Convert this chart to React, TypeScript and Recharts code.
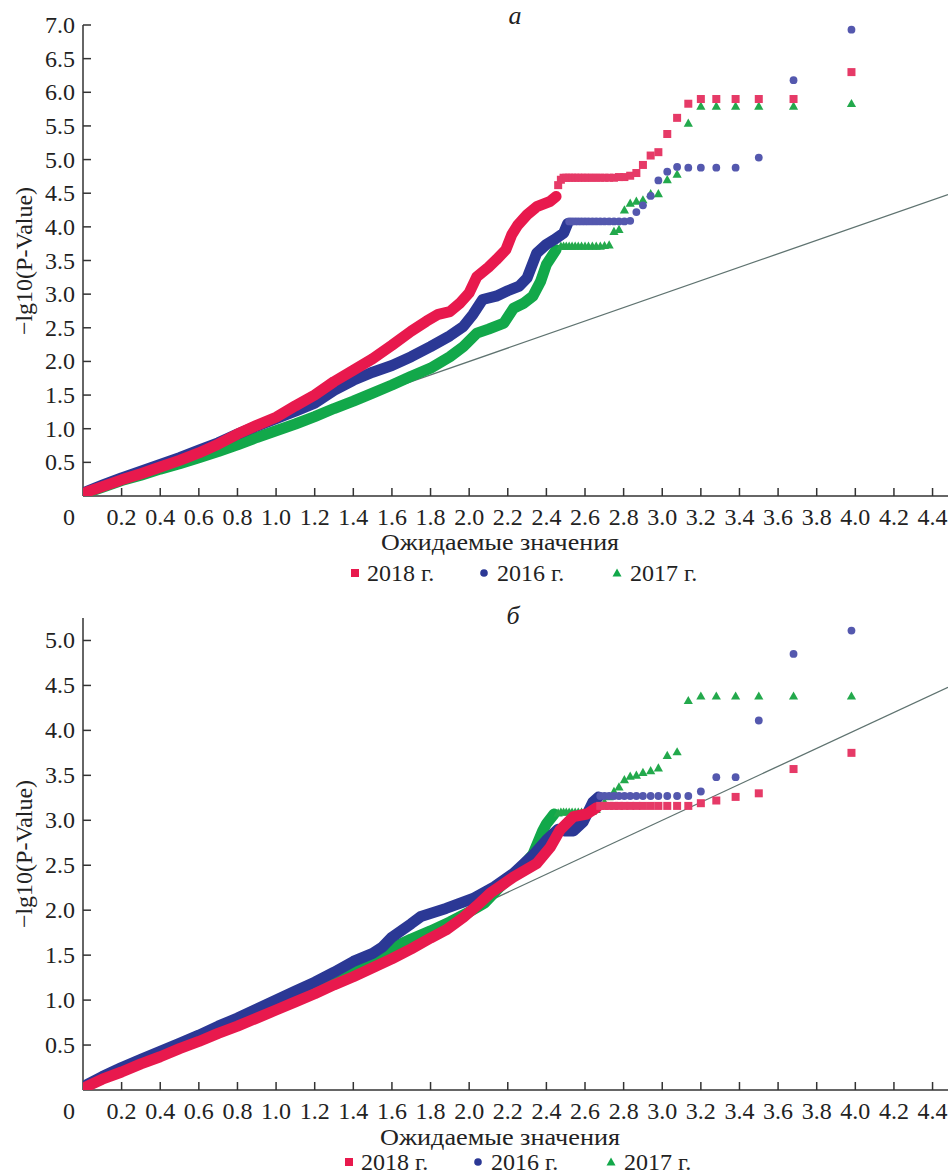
import React from 'react';
import { ScatterChart, Scatter, XAxis, YAxis } from 'recharts';

const SERIF = '"Liberation Serif", "Times New Roman", "DejaVu Serif", serif';
const RED = '#e8194d';
const BLUE = '#2b3895';
const GREEN = '#12a84a';
const RED_T = '#e63a67';
const BLUE_T = '#5458ae';
const GREEN_T = '#23a94c';
const DIAG = '#5f7370';
const AXIS = '#333333';
const TEXT = '#222222';

// ---- tick labels ----
const xTicks = [0, 0.2, 0.4, 0.6, 0.8, 1.0, 1.2, 1.4, 1.6, 1.8, 2.0, 2.2, 2.4, 2.6, 2.8, 3.0, 3.2, 3.4, 3.6, 3.8, 4.0, 4.2, 4.4];
const yTicksA = [0.5, 1.0, 1.5, 2.0, 2.5, 3.0, 3.5, 4.0, 4.5, 5.0, 5.5, 6.0, 6.5, 7.0];
const yTicksB = [0.5, 1.0, 1.5, 2.0, 2.5, 3.0, 3.5, 4.0, 4.5, 5.0];
const legendLabels = ['2018 г.', '2016 г.', '2017 г.'];
const panelLabels = ['а', 'б'];
const xTitle = 'Ожидаемые значения';
const yTitle = '−lg10(P-Value)';

// reference line y = x
const diagonal: [number, number][] = [[0, 0], [4.48, 4.48]];

// ---- panel а ----
const red2018A: [number, number][] = [
  [0.02, 0.06], [0.1, 0.14], [0.2, 0.24], [0.3, 0.33], [0.4, 0.43], [0.5, 0.53], [0.6, 0.64], [0.7, 0.77],
  [0.8, 0.92], [0.9, 1.05], [1.0, 1.17], [1.1, 1.34], [1.2, 1.50], [1.3, 1.70], [1.4, 1.87], [1.5, 2.04],
  [1.6, 2.24], [1.7, 2.45], [1.78, 2.60], [1.84, 2.70], [1.9, 2.74], [1.95, 2.86], [2.0, 3.02], [2.04, 3.26],
  [2.1, 3.40], [2.14, 3.51], [2.19, 3.66], [2.22, 3.88], [2.25, 4.02], [2.3, 4.18], [2.35, 4.30], [2.42, 4.38],
  [2.45, 4.45],
];
const red2018ATail: [number, number][] = [
  [2.461, 4.62], [2.475, 4.70], [2.489, 4.73], [2.503, 4.73], [2.518, 4.73], [2.533, 4.73], [2.549, 4.73],
  [2.565, 4.73], [2.582, 4.73], [2.6, 4.73], [2.618, 4.73], [2.638, 4.73], [2.658, 4.73], [2.679, 4.73],
  [2.701, 4.73], [2.725, 4.73], [2.75, 4.73], [2.776, 4.74], [2.804, 4.74], [2.834, 4.76], [2.866, 4.80],
  [2.9, 4.92], [2.94, 5.06], [2.98, 5.11], [3.026, 5.38], [3.077, 5.62], [3.135, 5.83], [3.2, 5.90],
  [3.28, 5.90], [3.38, 5.90], [3.5, 5.90], [3.68, 5.90], [3.98, 6.30],
];
const blue2016A: [number, number][] = [
  [0.02, 0.07], [0.1, 0.16], [0.2, 0.27], [0.3, 0.37], [0.4, 0.47], [0.5, 0.57], [0.6, 0.68], [0.7, 0.79],
  [0.8, 0.92], [0.9, 1.04], [1.0, 1.15], [1.1, 1.26], [1.2, 1.38], [1.3, 1.57], [1.4, 1.72], [1.5, 1.84],
  [1.6, 1.94], [1.7, 2.07], [1.8, 2.22], [1.9, 2.38], [1.97, 2.52], [2.02, 2.70], [2.07, 2.92], [2.14, 2.97],
  [2.2, 3.05], [2.26, 3.12], [2.3, 3.24], [2.35, 3.61], [2.4, 3.74], [2.44, 3.81], [2.49, 3.91], [2.51, 4.05],
];
const blue2016ATail: [number, number][] = [
  [2.518, 4.08], [2.533, 4.08], [2.549, 4.08], [2.565, 4.08], [2.582, 4.08], [2.6, 4.08], [2.618, 4.08],
  [2.638, 4.08], [2.658, 4.08], [2.679, 4.08], [2.701, 4.08], [2.725, 4.08], [2.75, 4.08], [2.776, 4.08],
  [2.804, 4.08], [2.834, 4.09], [2.866, 4.22], [2.9, 4.32], [2.94, 4.46], [2.98, 4.69], [3.026, 4.82],
  [3.077, 4.89], [3.135, 4.88], [3.2, 4.88], [3.28, 4.88], [3.38, 4.88], [3.5, 5.03], [3.68, 6.18], [3.98, 6.93],
];
const green2017A: [number, number][] = [
  [0.02, 0.05], [0.1, 0.13], [0.2, 0.23], [0.3, 0.31], [0.4, 0.40], [0.5, 0.48], [0.6, 0.57], [0.7, 0.66],
  [0.8, 0.76], [0.9, 0.87], [1.0, 0.97], [1.1, 1.07], [1.2, 1.18], [1.3, 1.30], [1.4, 1.41], [1.5, 1.53],
  [1.6, 1.65], [1.7, 1.78], [1.8, 1.90], [1.9, 2.07], [1.97, 2.22], [2.04, 2.42], [2.1, 2.48], [2.18, 2.57],
  [2.23, 2.79], [2.28, 2.86], [2.33, 2.97], [2.37, 3.19], [2.4, 3.44], [2.45, 3.66],
];
const green2017ATail: [number, number][] = [
  [2.475, 3.71], [2.489, 3.71], [2.503, 3.71], [2.518, 3.71], [2.533, 3.71], [2.549, 3.71], [2.565, 3.71],
  [2.582, 3.71], [2.6, 3.71], [2.618, 3.71], [2.638, 3.71], [2.658, 3.71], [2.679, 3.71], [2.701, 3.72],
  [2.725, 3.73], [2.75, 3.93], [2.776, 3.96], [2.804, 4.25], [2.834, 4.35], [2.866, 4.38], [2.9, 4.40],
  [2.94, 4.49], [2.98, 4.49], [3.026, 4.70], [3.077, 4.78], [3.135, 5.54], [3.2, 5.79], [3.28, 5.79],
  [3.38, 5.79], [3.5, 5.79], [3.68, 5.79], [3.98, 5.83],
];

// ---- panel б ----
const red2018B: [number, number][] = [
  [0.02, 0.04], [0.1, 0.12], [0.2, 0.20], [0.3, 0.29], [0.4, 0.37], [0.5, 0.46], [0.6, 0.54], [0.7, 0.63],
  [0.8, 0.71], [0.9, 0.80], [1.0, 0.89], [1.1, 0.98], [1.2, 1.07], [1.3, 1.17], [1.4, 1.26], [1.5, 1.36],
  [1.6, 1.46], [1.7, 1.57], [1.8, 1.69], [1.88, 1.78], [1.97, 1.92], [2.04, 2.05], [2.11, 2.19], [2.23, 2.37],
  [2.35, 2.52], [2.42, 2.70], [2.47, 2.89], [2.54, 3.04], [2.61, 3.07], [2.66, 3.14],
];
const red2018BTail: [number, number][] = [
  [2.679, 3.16], [2.701, 3.16], [2.725, 3.16], [2.75, 3.16], [2.776, 3.16], [2.804, 3.16],
  [2.834, 3.16], [2.866, 3.16], [2.9, 3.16], [2.94, 3.16], [2.98, 3.16], [3.026, 3.16], [3.077, 3.16],
  [3.135, 3.16], [3.2, 3.19], [3.28, 3.22], [3.38, 3.26], [3.5, 3.30], [3.68, 3.57], [3.98, 3.75],
];
const blue2016B: [number, number][] = [
  [0.02, 0.06], [0.1, 0.15], [0.2, 0.25], [0.3, 0.34], [0.4, 0.43], [0.5, 0.52], [0.6, 0.61], [0.7, 0.71],
  [0.8, 0.80], [0.9, 0.90], [1.0, 1.00], [1.1, 1.10], [1.2, 1.20], [1.3, 1.31], [1.4, 1.43], [1.5, 1.52],
  [1.55, 1.59], [1.6, 1.70], [1.7, 1.85], [1.75, 1.93], [1.88, 2.02], [2.02, 2.13], [2.13, 2.26], [2.23, 2.41],
  [2.33, 2.61], [2.4, 2.78], [2.46, 2.90], [2.5, 2.88], [2.54, 2.88], [2.59, 2.98], [2.64, 3.20], [2.67, 3.26],
];
const blue2016BTail: [number, number][] = [
  [2.679, 3.27], [2.701, 3.27], [2.725, 3.27], [2.75, 3.27], [2.776, 3.27], [2.804, 3.27], [2.834, 3.27],
  [2.866, 3.27], [2.9, 3.27], [2.94, 3.27], [2.98, 3.27], [3.026, 3.27], [3.077, 3.27], [3.135, 3.27],
  [3.2, 3.32], [3.28, 3.48], [3.38, 3.48], [3.5, 4.11], [3.68, 4.85], [3.98, 5.11],
];
const green2017B: [number, number][] = [
  [0.02, 0.05], [0.1, 0.13], [0.2, 0.22], [0.3, 0.31], [0.4, 0.39], [0.5, 0.48], [0.6, 0.57], [0.7, 0.66],
  [0.8, 0.75], [0.9, 0.84], [1.0, 0.93], [1.1, 1.02], [1.2, 1.12], [1.3, 1.21], [1.4, 1.31], [1.5, 1.42],
  [1.6, 1.58], [1.7, 1.68], [1.8, 1.77], [1.9, 1.87], [2.0, 1.98], [2.08, 2.08], [2.16, 2.26], [2.26, 2.45],
  [2.33, 2.62], [2.38, 2.88], [2.4, 2.96], [2.44, 3.07],
];
const green2017BTail: [number, number][] = [
  [2.461, 3.08], [2.475, 3.09], [2.489, 3.09], [2.503, 3.09], [2.518, 3.09], [2.533, 3.09], [2.549, 3.09],
  [2.565, 3.09], [2.582, 3.09], [2.6, 3.09], [2.618, 3.09], [2.638, 3.10], [2.658, 3.12], [2.679, 3.16],
  [2.701, 3.20], [2.725, 3.26], [2.75, 3.32], [2.776, 3.37], [2.804, 3.45], [2.834, 3.49], [2.866, 3.50],
  [2.9, 3.53], [2.94, 3.55], [2.98, 3.58], [3.026, 3.72], [3.077, 3.76], [3.135, 4.33], [3.2, 4.38],
  [3.28, 4.38], [3.38, 4.38], [3.5, 4.38], [3.68, 4.38], [3.98, 4.38],
];

const pts = (a: [number, number][]) => a.map(([x, y]) => ({ x, y }));

const noShape = () => <g />;
const squareShape = (color: string) => (p: any) => (
  <rect x={p.cx - 4} y={p.cy - 4} width={8} height={8} fill={color} />
);
const circleShape = (color: string) => (p: any) => <circle cx={p.cx} cy={p.cy} r={3.9} fill={color} />;
const triShape = (color: string) => (p: any) => (
  <polygon
    points={`${p.cx},${p.cy - 4.8} ${p.cx + 4.6},${p.cy + 3.4} ${p.cx - 4.6},${p.cy + 3.4}`}
    fill={color}
  />
);

const XTick = (props: any) => {
  const { x, y, payload } = props;
  const v = payload.value as number;
  if (v === 0) {
    return (
      <text x={x - 14} y={y + 21} textAnchor="middle" dominantBaseline="central" fill={TEXT}
        style={{ fontFamily: SERIF, fontSize: 24 }}>0</text>
    );
  }
  return (
    <g>
      <line x1={x} y1={y} x2={x} y2={y - 8} stroke={AXIS} strokeWidth={1.5} />
      <text x={x} y={y + 21} textAnchor="middle" dominantBaseline="central" fill={TEXT}
        style={{ fontFamily: SERIF, fontSize: 24 }}>{v.toFixed(1)}</text>
    </g>
  );
};

const YTick = (props: any) => {
  const { x, y, payload } = props;
  const v = payload.value as number;
  return (
    <g>
      <line x1={x} y1={y} x2={x + 8} y2={y} stroke={AXIS} strokeWidth={1.5} />
      <text x={x - 8} y={y} textAnchor="end" dominantBaseline="central" fill={TEXT}
        style={{ fontFamily: SERIF, fontSize: 24 }}>{v.toFixed(1)}</text>
    </g>
  );
};

const bandLine = (color: string) => ({
  stroke: color,
  strokeWidth: 11,
  strokeLinecap: 'round',
  strokeLinejoin: 'round',
});

type PanelProps = {
  height: number;
  marginTop: number;
  xAxisHeight: number;
  yMax: number;
  yTicks: number[];
  red: [number, number][];
  redTail: [number, number][];
  blue: [number, number][];
  blueTail: [number, number][];
  green: [number, number][];
  greenTail: [number, number][];
};

function Panel(p: PanelProps) {
  return (
    <ScatterChart width={951} height={p.height} margin={{ top: p.marginTop, right: 3, bottom: 0, left: 0 }}>
      <XAxis
        type="number"
        dataKey="x"
        domain={[0, 4.48]}
        ticks={xTicks}
        interval={0}
        height={p.xAxisHeight}
        tickSize={0}
        tickMargin={0}
        tickLine={false}
        tick={<XTick />}
        axisLine={{ stroke: AXIS, strokeWidth: 1.5 }}
        allowDataOverflow
      />
      <YAxis
        type="number"
        dataKey="y"
        domain={[0, p.yMax]}
        ticks={p.yTicks}
        interval={0}
        width={83}
        tickSize={0}
        tickMargin={0}
        tickLine={false}
        tick={<YTick />}
        axisLine={{ stroke: AXIS, strokeWidth: 1.5 }}
        allowDataOverflow
      />
      <Scatter data={pts(diagonal)} fill={DIAG} line={{ stroke: DIAG, strokeWidth: 1.3 }} shape={noShape}
        isAnimationActive={false} legendType="none" />
      <Scatter data={pts(p.green)} fill={GREEN} line={bandLine(GREEN)} shape={noShape}
        isAnimationActive={false} legendType="none" />
      <Scatter data={pts(p.greenTail)} fill={GREEN_T} shape={triShape(GREEN_T)}
        isAnimationActive={false} legendType="none" />
      <Scatter data={pts(p.blue)} fill={BLUE} line={bandLine(BLUE)} shape={noShape}
        isAnimationActive={false} legendType="none" />
      <Scatter data={pts(p.blueTail)} fill={BLUE_T} shape={circleShape(BLUE_T)}
        isAnimationActive={false} legendType="none" />
      <Scatter data={pts(p.red)} fill={RED} line={bandLine(RED)} shape={noShape}
        isAnimationActive={false} legendType="none" />
      <Scatter data={pts(p.redTail)} fill={RED_T} shape={squareShape(RED_T)}
        isAnimationActive={false} legendType="none" />
    </ScatterChart>
  );
}

function Legend({ y, shift }: { y: number; shift: number }) {
  const s = shift;
  const st = { fontFamily: SERIF, fontSize: 24 };
  return (
    <g>
      <rect x={351 + s} y={y - 4} width={8} height={8} fill={RED} />
      <text x={367 + s} y={y} dominantBaseline="central" fill={TEXT} style={st}>{legendLabels[0]}</text>
      <circle cx={484 + s} cy={y} r={3.8} fill={BLUE} />
      <text x={497 + s} y={y} dominantBaseline="central" fill={TEXT} style={st}>{legendLabels[1]}</text>
      <polygon points={`${617 + s},${y - 4.5} ${621.5 + s},${y + 3.5} ${612.5 + s},${y + 3.5}`} fill={GREEN} />
      <text x={630 + s} y={y} dominantBaseline="central" fill={TEXT} style={st}>{legendLabels[2]}</text>
    </g>
  );
}

export default function App() {
  const txt = { fontFamily: SERIF, fontSize: 24 } as React.CSSProperties;
  return (
    <div style={{ position: 'absolute', left: 0, top: 0, width: 951, height: 1176, background: '#ffffff', overflow: 'hidden' }}>
      <div style={{ position: 'absolute', left: 0, top: 0 }}>
        <Panel height={600} marginTop={25} xAxisHeight={104} yMax={7} yTicks={yTicksA}
          red={red2018A} redTail={red2018ATail} blue={blue2016A} blueTail={blue2016ATail}
          green={green2017A} greenTail={green2017ATail} />
      </div>
      <div style={{ position: 'absolute', left: 0, top: 600 }}>
        <Panel height={576} marginTop={18} xAxisHeight={86} yMax={5.25} yTicks={yTicksB}
          red={red2018B} redTail={red2018BTail} blue={blue2016B} blueTail={blue2016BTail}
          green={green2017B} greenTail={green2017BTail} />
      </div>
      <svg width={951} height={1176} style={{ position: 'absolute', left: 0, top: 0, pointerEvents: 'none' }}>
        <text x={515} y={15} textAnchor="middle" dominantBaseline="central" fill={TEXT}
          style={{ ...txt, fontStyle: 'italic', fontSize: 26 }}>{panelLabels[0]}</text>
        <text x={513} y={615} textAnchor="middle" dominantBaseline="central" fill={TEXT}
          style={{ ...txt, fontStyle: 'italic', fontSize: 26 }}>{panelLabels[1]}</text>
        <text x={0} y={0} textAnchor="middle" dominantBaseline="central" fill={TEXT} style={txt}
          transform="translate(24,261) rotate(-90)">{yTitle}</text>
        <text x={0} y={0} textAnchor="middle" dominantBaseline="central" fill={TEXT} style={txt}
          transform="translate(24,854) rotate(-90)">{yTitle}</text>
        <text x={381} y={542} dominantBaseline="central" fill={TEXT} style={txt}
          textLength={238} lengthAdjust="spacingAndGlyphs">{xTitle}</text>
        <text x={380} y={1137} dominantBaseline="central" fill={TEXT} style={txt}
          textLength={240} lengthAdjust="spacingAndGlyphs">{xTitle}</text>
        <Legend y={573} shift={0} />
        <Legend y={1162} shift={-6} />
      </svg>
    </div>
  );
}
